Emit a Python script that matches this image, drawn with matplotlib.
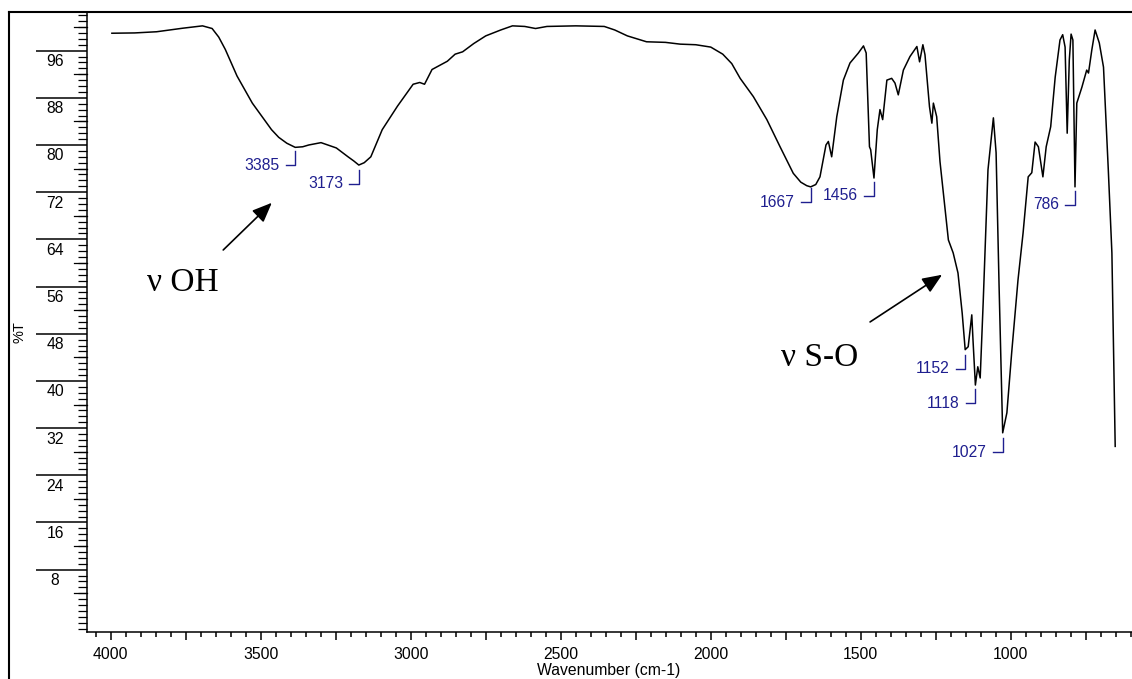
import matplotlib
matplotlib.use("Agg")
import matplotlib.pyplot as plt
from matplotlib import transforms
from matplotlib.lines import Line2D
from matplotlib.ticker import MultipleLocator, FixedLocator, FuncFormatter

# spectrum (wavenumber in cm-1, %T)
wavenumber = [
    3996, 3920, 3847, 3760, 3694, 3662, 3640, 3618, 3579, 3528, 3464, 3440,
    3413, 3385, 3360, 3340, 3299, 3248, 3209, 3190, 3173, 3155, 3133, 3095,
    3044, 2992, 2970, 2954, 2929, 2878, 2852, 2827, 2790, 2750, 2700, 2661,
    2620, 2584, 2546, 2450, 2355, 2320, 2278, 2214, 2151, 2102, 2050, 2000,
    1960, 1930, 1902, 1858, 1813, 1769, 1725, 1700, 1680, 1667, 1650, 1636,
    1616, 1608, 1597, 1580, 1558, 1536, 1508, 1491, 1482, 1471, 1467, 1456,
    1445, 1436, 1427, 1413, 1397, 1386, 1375, 1358, 1336, 1313, 1304, 1293,
    1286, 1271, 1263, 1258, 1247, 1236, 1208, 1192, 1176, 1162, 1152, 1142,
    1130, 1126, 1118, 1110, 1102, 1092, 1076, 1058, 1049, 1039, 1027, 1013,
    997, 976, 959, 942, 930, 919, 908, 893, 882, 867, 852, 836,
    827, 819, 812, 805, 799, 793, 786, 780, 763, 747, 741, 730,
    719, 705, 691, 675, 663, 652,
]
transmittance = [
    98.95, 99.0, 99.2, 99.8, 100.2, 99.75, 98.3, 96.2, 91.7, 87.1, 82.6, 81.3,
    80.3, 79.6, 79.7, 80.0, 80.4, 79.5, 78.0, 77.3, 76.6, 77.0, 78.0, 82.6,
    86.6, 90.3, 90.6, 90.3, 92.8, 94.2, 95.4, 95.8, 97.2, 98.5, 99.5, 100.2,
    100.1, 99.75, 100.1, 100.2, 100.1, 99.5, 98.5, 97.5, 97.4, 97.1, 97.0, 96.6,
    95.4, 93.8, 91.3, 88.2, 84.3, 79.7, 75.2, 73.7, 73.1, 72.9, 73.3, 74.6,
    80.0, 80.6, 78.0, 84.8, 91.0, 93.9, 95.6, 96.8, 95.6, 79.7, 79.2, 74.4,
    82.6, 86.0, 84.3, 91.0, 91.3, 90.5, 88.5, 92.7, 95.0, 96.7, 94.1, 97.0,
    95.3, 86.5, 83.7, 87.1, 84.8, 77.2, 63.9, 61.7, 58.3, 51.5, 45.3, 45.8,
    51.2, 47.0, 39.3, 42.4, 40.5, 53.3, 75.8, 84.6, 78.7, 56.0, 31.2, 34.6,
    44.8, 57.1, 65.1, 74.6, 75.3, 80.5, 79.7, 74.6, 79.7, 83.1, 91.5, 97.8,
    98.7, 96.6, 82.0, 94.4, 98.8, 97.8, 72.9, 87.1, 89.8, 92.7, 92.2, 96.1,
    99.5, 97.3, 93.2, 75.8, 61.7, 28.9,
]

# peak labels and the %T level where each marker starts
peak_positions = [3385, 3173, 1667, 1456, 1152, 1118, 1027, 786]
peak_label_y = [78.9, 75.8, 72.7, 73.8, 44.4, 38.6, 30.3, 72.2]

y_tick_values = [8, 16, 24, 32, 40, 48, 56, 64, 72, 80, 88, 96]

plt.rcParams['font.family'] = ['Liberation Sans', 'DejaVu Sans']

W, H = 1132, 679
fig = plt.figure(figsize=(W / 100, H / 100), dpi=100)
ax = fig.add_axes([87.3 / W, (H - 632.3) / H, 1 - 87.3 / W, (632.3 - 11.7) / H])

ax.plot(wavenumber, transmittance, color='black', lw=1.1)
ax.set_xlim(4078, 596)
ax.set_ylim(-2.62, 102.6)

for s in ['top', 'right']:
    ax.spines[s].set_visible(False)
for s in ['left', 'bottom']:
    ax.spines[s].set_linewidth(1.1)

# x axis
ax.xaxis.set_major_locator(MultipleLocator(250))
ax.xaxis.set_minor_locator(MultipleLocator(50))
ax.xaxis.set_major_formatter(
    FuncFormatter(lambda v, p: f"{int(v)}" if v % 500 == 0 else ""))
ax.tick_params(axis='x', which='major', direction='out', length=6, width=1.1,
               pad=4.6, labelsize=11.3)
ax.tick_params(axis='x', which='minor', direction='out', length=3.6, width=1.1)

# y axis: long lines at the labelled values, small ticks every 1, medium every 4
ax.yaxis.set_major_locator(FixedLocator(y_tick_values))
ax.yaxis.set_minor_locator(MultipleLocator(1))
ax.tick_params(axis='y', which='major', direction='out', length=36.7, width=1.1,
               labelleft=False)
ax.tick_params(axis='y', which='minor', direction='out', length=6.5, width=0.9)

ax_w = W - 87.3
ytrans = transforms.blended_transform_factory(ax.transAxes, ax.transData)
for v in range(4, 101, 8):
    ax.plot([-13 / ax_w, 0], [v, v], transform=ytrans, color='black', lw=0.9,
            clip_on=False)

label_trans = transforms.offset_copy(ytrans, fig=fig, y=-11, units='dots')
for v in y_tick_values:
    ax.text((55 - 87.3) / ax_w, v, str(v), transform=label_trans,
            ha='center', va='center', fontsize=11.3)

fig.text(20 / W, 1 - 332 / H, '%T', rotation=90, ha='center', va='center',
         fontsize=10.5)
fig.text(609 / W, 1 - 670 / H, 'Wavenumber (cm-1)', ha='center', va='center',
         fontsize=11.3)

# peak markers
navy = '#1f1f8f'
dx = 32   # cm-1, about 9.5 px
dy = 2.37  # %T, about 14 px
for pos, top in zip(peak_positions, peak_label_y):
    ax.plot([pos, pos, pos + dx], [top, top - dy, top - dy], color=navy, lw=1.0)
    ax.text(pos + dx + 20, top - dy, str(pos), color=navy, ha='right',
            va='center', fontsize=11.3)

# band assignments
serif = ['Liberation Serif', 'DejaVu Serif']
ax.text(3880, 55.2, 'ν OH', family=serif, fontsize=24, ha='left', va='baseline')
ax.annotate('', xy=(3463, 70.2), xytext=(3625, 62.2),
            arrowprops=dict(arrowstyle='-|>,head_length=0.6,head_width=0.25',
                            color='black', lw=1.2, mutation_scale=20,
                            shrinkA=0, shrinkB=0))
ax.text(1766, 42.6, 'ν S-O', family=serif, fontsize=24, ha='left', va='baseline')
ax.annotate('', xy=(1229, 58.0), xytext=(1469, 50.0),
            arrowprops=dict(arrowstyle='-|>,head_length=0.6,head_width=0.25',
                            color='black', lw=1.2, mutation_scale=20,
                            shrinkA=0, shrinkB=0))

# outer frame (left and top edges)
fig.add_artist(Line2D([9 / W, 9 / W], [0, 1 - 11.7 / H], transform=fig.transFigure,
                      color='black', lw=1.5))
fig.add_artist(Line2D([9 / W, 1], [1 - 11.7 / H, 1 - 11.7 / H],
                      transform=fig.transFigure, color='black', lw=1.5))

fig.savefig('out.png', dpi=100)
